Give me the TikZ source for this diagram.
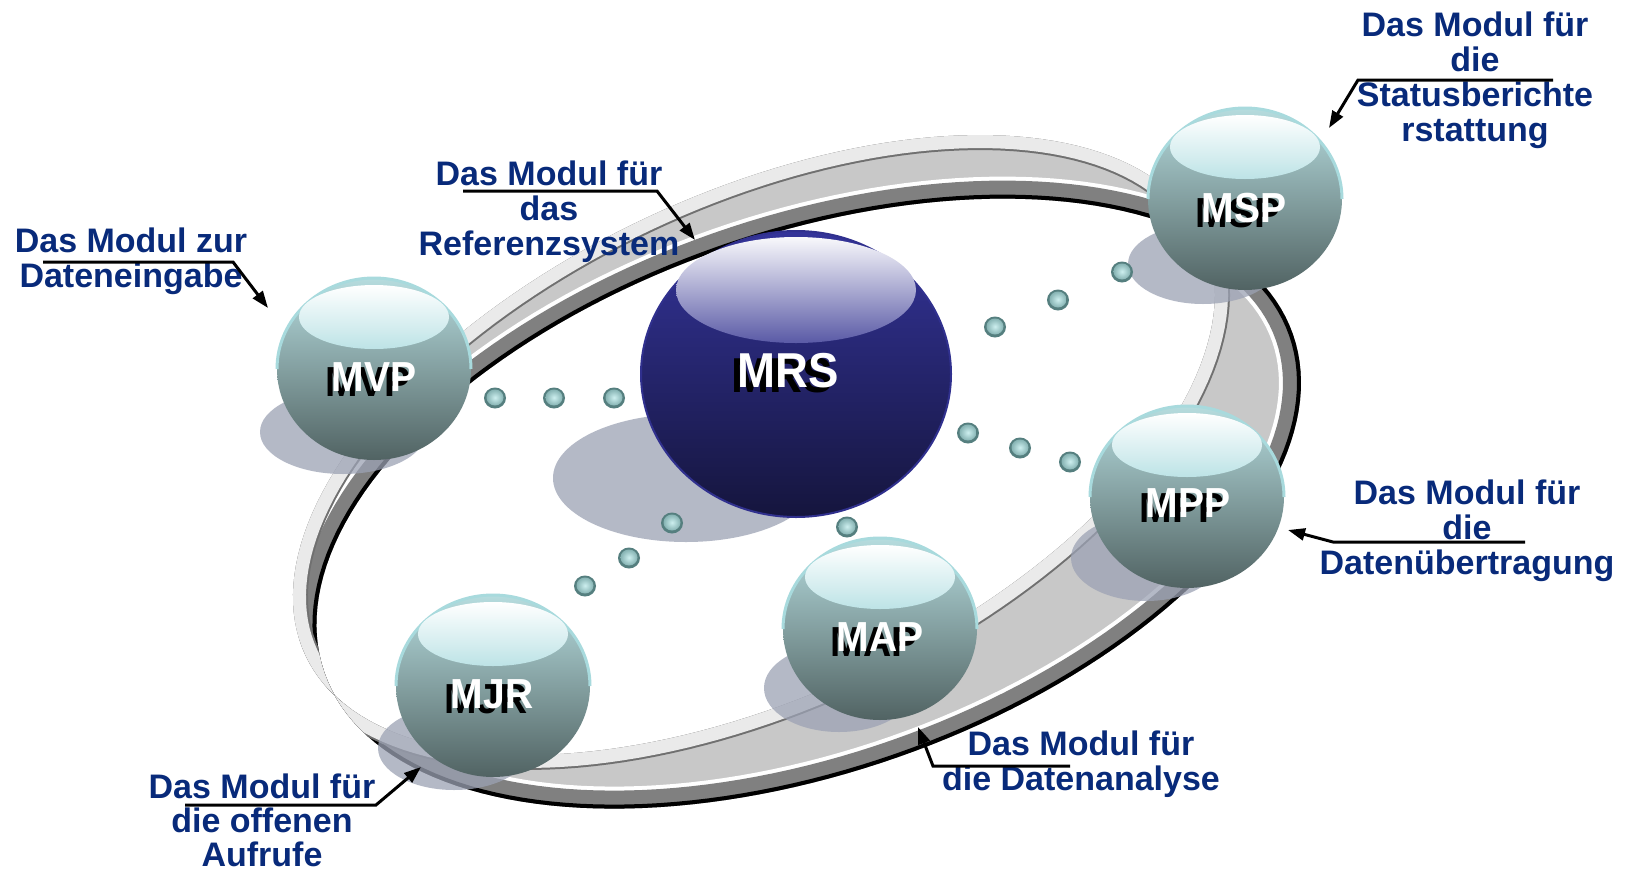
\documentclass[tikz,border=0pt]{standalone}
\usepackage{fontspec}
\setmainfont{Liberation Sans}
\newfontfamily\labfont[FakeStretch=0.93]{Liberation Sans}
\usetikzlibrary{arrows.meta}
\definecolor{txtblue}{HTML}{082A7A}
\definecolor{ringgray}{HTML}{C8C8C8}
\definecolor{ringwhite}{HTML}{EAEAEA}
\definecolor{ringline}{HTML}{707070}
\definecolor{wallgray}{HTML}{808080}
\definecolor{shadowc}{HTML}{9CA2B4}
\definecolor{tealtop}{HTML}{B6DCDE}
\definecolor{tealmid}{HTML}{8FAFB0}
\definecolor{tealbot}{HTML}{516363}
\definecolor{tealhl}{HTML}{BDE3E6}
\definecolor{tealrim}{HTML}{A8DADD}
\definecolor{navytop}{HTML}{34349A}
\definecolor{navymid}{HTML}{26267A}
\definecolor{navybot}{HTML}{15153D}
\definecolor{navyhl}{HTML}{5A5AA6}
\definecolor{navyrim}{HTML}{30308E}
\definecolor{dotin}{HTML}{CDEFEF}
\definecolor{dotmid}{HTML}{86B3B3}
\definecolor{dotout}{HTML}{557F7F}
\newcommand\ringT{plot[domain=0:360,samples=181] ({754+448.5*cos(\x)+106.8*sin(\x)},{445-210.4*cos(\x)+227.6*sin(\x)}) -- cycle}
\newcommand\ringB{plot[domain=0:360,samples=181] ({808.7+484.2*cos(\x)+88.7*sin(\x)},{503.6-169.3*cos(\x)+253.7*sin(\x)}) -- cycle}
\newcommand\tealsphere[2]{%
  \shade[top color=tealtop, middle color=tealmid, bottom color=tealbot] (#1,#2) ellipse [x radius=97, y radius=91];
  \draw[tealrim, line width=1.5pt] ({#1-97},#2) arc[start angle=180, end angle=360, x radius=97, y radius=91];
  \shade[top color=white, bottom color=tealhl] (#1,{#2-52}) ellipse [x radius=75, y radius=32];
}
\newcommand\smalldot[2]{%
  \fill[dotout] (#1,#2) ellipse [x radius=11, y radius=10.5];
  \shade[inner color=dotin, outer color=dotmid] (#1,{#2-0.5}) ellipse [x radius=8.5, y radius=8];
}
\newcommand\shadowtext[1]{\rlap{\kern-3pt\smash{\raisebox{-2.5pt}{\color{black}#1}}}\color{white}#1}
\tikzset{
  note/.style={text=txtblue, font=\bfseries\fontsize{17}{17.5}\selectfont, align=center, inner sep=0pt, anchor=north},
  balllab/.style={font=\labfont\bfseries\fontsize{21}{21}\selectfont, inner sep=0pt},
  biglab/.style={font=\labfont\bfseries\fontsize{24.5}{24.5}\selectfont, inner sep=0pt},
  leader/.style={black, line width=1.5pt, -{Triangle[length=8.5pt, width=6pt]}},
  shadowell/.style={fill=shadowc, opacity=0.75}
}
\begin{document}
\begin{tikzpicture}[x=0.5pt, y=-0.5pt]
\useasboundingbox (0,0) rectangle (1629,873);
\fill[white] (0,0) rectangle (1629,873);

% ring band
\fill[ringgray, even odd rule] \ringT \ringB;
\begin{scope}[even odd rule]
  \clip \ringT \ringB;
  \draw[white, line width=22pt] \ringB;
  \draw[wallgray, line width=18pt] \ringB;
  \draw[black, line width=4pt] \ringB;
  \draw[ringline, line width=15pt] \ringT;
  \draw[ringwhite, line width=13pt] \ringT;
\end{scope}

% shadows
\fill[shadowell] (686,478) ellipse [x radius=133, y radius=64];
\fill[shadowell] (343,432) ellipse [x radius=83, y radius=42];
\fill[shadowell] (1203,264) ellipse [x radius=75, y radius=40];
\fill[shadowell] (1146,558) ellipse [x radius=75, y radius=43];
\fill[shadowell] (839,688) ellipse [x radius=75, y radius=44];
\fill[shadowell] (454,748) ellipse [x radius=76, y radius=42];

% dots
\smalldot{495}{398}\smalldot{554}{398}\smalldot{614}{398}
\smalldot{995}{327}\smalldot{1058}{300}\smalldot{1122}{272}
\smalldot{968}{433}\smalldot{1020}{448}\smalldot{1070}{462}
\smalldot{672}{523}\smalldot{629}{558}\smalldot{585}{586}
\smalldot{847}{527}

% MRS sphere
\shade[top color=navytop, middle color=navymid, bottom color=navybot] (796,374) ellipse [x radius=155, y radius=143];
\draw[navyrim, line width=1pt] (796,374) ellipse [x radius=155, y radius=143];
\shade[top color=white!96!navyhl, bottom color=navyhl] (796,290) ellipse [x radius=120, y radius=53];

% teal spheres
\tealsphere{374}{369}
\tealsphere{1245}{199}
\tealsphere{1187}{497}
\tealsphere{880}{629}
\tealsphere{493}{686}

% sphere labels
\node[biglab] (mrs) at (788,371) {\shadowtext{MRS}};
\node[balllab] (mvp) at (374,377) {\shadowtext{MVP}};
\node[balllab] (msp) at (1244,208) {\shadowtext{MSP}};
\node[balllab] (mpp) at (1188,503) {\shadowtext{MPP}};
\node[balllab] (map) at (880,637) {\shadowtext{MAP}};
\node[balllab] (mjr) at (492,694) {\shadowtext{MJR}};

% annotations
\node[note] (n1) at (1475,11.5) {Das Modul für\\die\\Statusberichte\\rstattung};
\node[note] (n2) at (549,160.5) {Das Modul für\\das\\Referenzsystem};
\node[note] (n3) at (131,227.5) {Das Modul zur\\Dateneingabe};
\node[note] (n4) at (1467,479.5) {Das Modul für\\die\\Datenübertragung};
\node[note] (n5) at (1081,730.5) {Das Modul für\\die Datenanalyse};
\node[note, font=\bfseries\fontsize{17}{17.1}\selectfont] (n6) at (262,773.5) {Das Modul für\\die offenen\\Aufrufe};

% leaders
\coordinate (a1) at (1553,80); \coordinate (b1) at (1358,80); \coordinate (t1) at (1329,128);
\coordinate (a2) at (463,191); \coordinate (b2) at (657,191); \coordinate (t2) at (695,240);
\coordinate (a3) at (43,262); \coordinate (b3) at (233,262); \coordinate (t3) at (268,308);
\coordinate (a4) at (1525,542); \coordinate (b4) at (1333,542); \coordinate (t4) at (1288,530);
\coordinate (a5) at (1070,766); \coordinate (b5) at (933,766); \coordinate (t5) at (918,727);
\coordinate (a6) at (185,805); \coordinate (b6) at (376,805); \coordinate (t6) at (421,767);
\draw[leader] (a1) -- (b1) -- (t1);
\draw[leader] (a2) -- (b2) -- (t2);
\draw[leader] (a3) -- (b3) -- (t3);
\draw[leader] (a4) -- (b4) -- (t4);
\draw[leader] (a5) -- (b5) -- (t5);
\draw[leader] (a6) -- (b6) -- (t6);
\end{tikzpicture}
\end{document}
